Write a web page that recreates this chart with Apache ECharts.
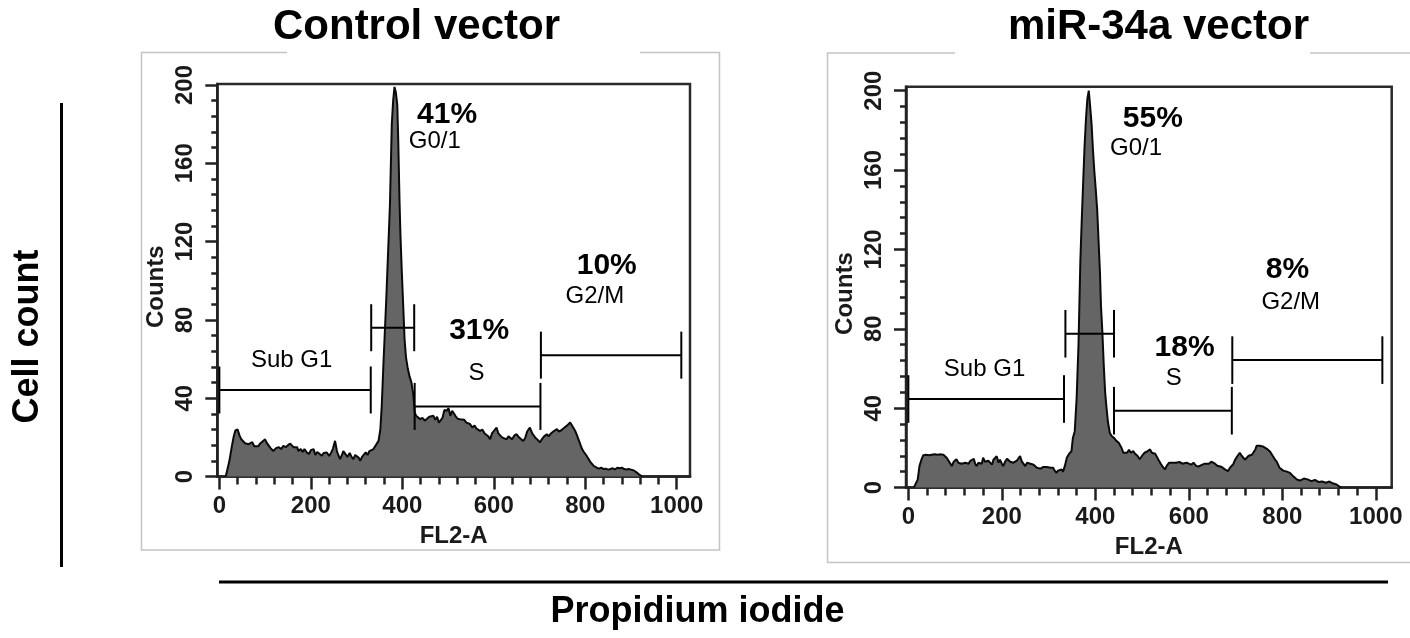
<!DOCTYPE html>
<html>
<head>
<meta charset="utf-8">
<script src="https://cdn.jsdelivr.net/npm/echarts@6/dist/echarts.min.js"></script>
<style>
html,body{margin:0;padding:0;background:#fff;}
#chart{width:1410px;height:638px;}
</style>
</head>
<body>
<div id="chart"></div>
<script>
// ---------- DATA ----------
const panelTitles = ['Control vector', 'miR-34a vector'];
const xAxisTitle = 'FL2-A';
const yAxisTitle = 'Counts';
const outerYTitle = 'Cell count';
const outerXTitle = 'Propidium iodide';
const xTickValues = [0, 200, 400, 600, 800, 1000];
const yTickValues = [0, 40, 80, 120, 160, 200];

// Control vector histogram (FL2-A channel, counts)
const ctrlX = [14,18,22,27,31,35,40,44,48,52,56,60,64,68,72,76,80,85,90,95,100,104,108,112,118,124,130,135,140,145,150,155,158,162,166,170,173,178,182,186,191,196,200,206,210,214,218,224,228,232,235,240,244,248,253,257,260,264,268,271,275,280,285,289,293,297,301,305,308,312,316,320,324,328,332,337,342,348,352,355,359,362,365,369,373,377,380,383,386,389,391,394,396,399,402,405,408,412,416,420,424,427,430,434,439,444,449,454,459,463,468,472,476,480,484,488,492,497,501,505,509,512,516,521,526,530,535,540,544,548,553,558,562,566,570,575,580,584,588,592,596,601,606,610,614,618,623,628,632,636,640,645,650,655,660,665,669,673,679,684,688,692,697,701,705,710,716,720,725,730,734,738,742,747,752,756,760,764,767,771,775,778,782,786,789,793,797,800,803,807,811,815,818,821,825,830,835,840,845,850,855,860,865,870,875,880,885,890,895,900,905,910,914,918,922,925];
const ctrlY = [0,0.5,8,15,20,23.5,24,21,19,18,17,18,16.5,16,17.5,15.5,16,15.5,17,18,19,17,16,14.5,13,14.5,15,14,15.7,15,16,16.8,17.4,15,14.5,15,13,14,12.5,14,12.3,11.5,13.5,14,11,12.5,11.5,10.6,12,11,12.3,10.5,12,14,18.2,13,11,8.9,11,13,13.1,10,12,10,8.9,11,12,9.5,8,10,11,12.3,11,13,14,14,16,18.2,24,36,59,75,91,115,139,180,192,199,196,190,173,140,123,104,87,70,61,55,51,48,42,33,31,30.5,29.3,30,28.5,29.5,30.5,30,31,29,30.5,27.5,26.8,30,34,33.6,35,31,33.6,33,31,29.5,29.3,28.5,29,27.5,27.5,26.8,25,26,24.5,24,23.3,24,22,21,20.5,19,22,23.5,25,22,21.5,20,19.5,19,20.5,21,19,21,21.6,20,19,18.2,20,23,25,22,21,19.5,18.5,17.4,19,20.5,21.6,20.5,22,23,23.5,24.2,23,23.5,24.5,25,26,27,27.6,26,24.5,23.3,21,18.5,16.5,14,12.5,11.5,10.6,9,7.5,6.5,5.5,5.5,4.5,4,4.5,3.8,4,3.5,3.8,4.2,3.6,4.5,4.2,4.5,3.8,3.6,3.8,3.5,3.2,2.5,2,1,0.3,0];

// miR-34a vector histogram
const mirX = [12,16,20,24,28,32,38,44,50,56,62,66,70,75,78,82,86,90,93,97,100,103,107,110,114,118,122,126,129,132,136,140,143,146,150,154,157,160,164,168,171,175,179,182,186,189,193,196,200,203,207,211,214,218,221,225,228,232,236,239,243,247,250,254,258,261,264,268,271,275,278,283,288,292,296,300,305,310,313,317,320,324,328,331,335,339,344,349,352,356,360,364,368,371,374,377,380,383,386,389,392,395,398,401,404,407,410,412,415,418,421,424,427,431,435,440,445,450,453,456,460,464,468,472,476,481,485,490,495,500,505,510,514,517,521,525,528,531,535,540,544,549,553,558,563,567,572,576,581,586,590,595,600,605,610,615,620,624,629,634,638,643,648,652,656,661,665,669,673,678,684,688,692,695,699,703,706,709,713,716,720,724,728,731,735,738,742,745,748,752,756,760,764,767,770,774,778,781,784,788,791,794,798,802,806,810,813,816,820,824,828,831,834,838,842,846,850,854,858,862,866,870,873,877,881,885,889,893,897,901,905,909,912,916,920,923,926];
const mirY = [0,0.5,4,11,14,16.3,16.5,16.3,16.5,16.7,16.5,17.5,16.7,16.5,15.8,15,13.5,12,10.8,13,12.5,14.2,12.5,13,12,11.6,12.5,13.5,12,13.3,12.5,14.5,12,10.8,12.5,13.5,12,15,13,12,13.5,12.5,11.5,14,13.5,15.8,12.5,14,12,10.8,13,14.5,15,13,14,12.5,11.6,13.5,14.5,15.8,13,12,10.8,12.5,13,12,12.5,11.5,11,10,9.1,9.5,10.3,10,10.3,10.2,10,9.9,8.5,7.4,8.5,9.5,9.1,8,11,15,17,18.3,25,28.4,45,72,114.5,135,154,172,186,196,200,192,183,170,159,150,140,124,108,92,78.7,62,48,40,33,27.5,26,25,23.5,22.5,22.5,20,17.5,18.5,17.5,19,17.5,18.3,17,16,14.2,16,17.5,18,18.5,19.2,17.5,16.5,17,15.8,14,12,10.5,9.1,11,12.5,12.5,13.3,12.5,13,12.8,12,13,12.5,12,11.5,12.5,11,10.5,10.8,11.5,12,13,12,13,12.5,12,11,11.5,10.5,9.9,9,8.3,10,11,11.7,14,15.5,16.5,17.5,16,15,14,14.2,16,17,16.5,16.7,19,21,22,21,20,20.5,20,19.5,19.2,18,16.5,15.5,14.2,13,11.5,10,9.1,8.5,8.8,8,7.5,7.4,6.5,5.5,5,4,3.3,3.5,4.2,4.5,4,4.1,3.5,3.2,3.5,3.8,3.3,2.8,2.5,3,2.8,2.4,2.8,3,2.6,2,2.4,1.5,0.8,0.3,0];

// Gates: start channel, end channel, marker level (counts)
const ctrlGateStart = [0, 332, 427, 703];
const ctrlGateEnd   = [331, 426, 702, 1010];
const ctrlGateLevel = [44.2, 76, 35.8, 62];
const mirGateStart  = [0, 336, 440, 693];
const mirGateEnd    = [333, 440, 692, 1014];
const mirGateLevel  = [44.6, 77.5, 38.7, 64.2];

// Annotations: text, channel, counts
const ctrlLabelText = ['41%', 'G0/1', '31%', 'S', '10%', 'G2/M', 'Sub G1'];
const ctrlLabelX    = [498, 471, 568, 562, 847, 821, 158];
const ctrlLabelY    = [184.7, 171, 74.5, 52.5, 107.6, 92, 59.4];
const mirLabelText  = ['55%', 'G0/1', '18%', 'S', '8%', 'G2/M', 'Sub G1'];
const mirLabelX     = [523, 487, 591, 568, 811, 818, 163];
const mirLabelY     = [186, 170.7, 70.2, 54.9, 110, 93.4, 59.6];

// ---------- CHART ----------
const FONT = '"Liberation Sans", Arial, Helvetica, sans-serif';
const AX_FONT = FONT;
const AX_SIZE = 24;
const AX_HALF = AX_SIZE / 2;

const GATE_HALF = 12;
const minorX = [];
for (let v = 0; v <= 1000; v += 40) if (xTickValues.indexOf(v) < 0) minorX.push(v);
const minorY = [];
for (let v = 0; v <= 200; v += 8) if (yTickValues.indexOf(v) < 0) minorY.push(v);

const zip = (a, b) => a.map((v, i) => [v, b[i]]);
const zip3 = (a, b, c) => a.map((v, i) => [v, b[i], c[i]]);

function gateRender(params, api) {
  const x1 = api.value(0), x2 = api.value(1), y = api.value(2);
  const a = api.coord([x1, y]), b = api.coord([x2, y]);
  const top = api.coord([x1, y + GATE_HALF])[1];
  const bot = api.coord([x1, y - GATE_HALF])[1];
  const st = {stroke: '#000', lineWidth: 2};
  return {type: 'group', children: [
    {type: 'line', shape: {x1: a[0], y1: a[1], x2: b[0], y2: b[1]}, style: st},
    {type: 'line', shape: {x1: a[0], y1: top, x2: a[0], y2: bot}, style: st},
    {type: 'line', shape: {x1: b[0], y1: top, x2: b[0], y2: bot}, style: st}
  ]};
}
function makeLabelRender(texts) {
  return function (params, api) {
    const p = api.coord([api.value(0), api.value(1)]);
    const t = texts[params.dataIndex];
    const bold = t.indexOf('%') >= 0;
    return {type: 'text', x: p[0], y: p[1], style: {
      text: t, fill: '#000', align: 'center', verticalAlign: 'middle',
      font: (bold ? 'bold 30px ' : '24px ') + FONT
    }};
  };
}

const grids = [
  {left: 217.3, top: 84, width: 472.7, height: 392.5, xmin: -4.5, xmax: 1029, ymax: 200.5},
  {left: 906, top: 86.7, width: 485.7, height: 400.8, xmin: -5, xmax: 1034, ymax: 202}
];

const option = {
  animation: false,
  backgroundColor: '#fff',
  grid: grids.map(g => ({left: g.left, top: g.top, width: g.width, height: g.height,
    show: true, borderColor: '#2a2a2a', borderWidth: 2.5, backgroundColor: 'transparent'})),
  xAxis: [],
  yAxis: [],
  series: [],
  graphic: []
};

const axisText = {color: '#1a1a1a', fontFamily: AX_FONT, fontWeight: 'bold', fontSize: AX_SIZE};
const plain = v => String(v);
grids.forEach((g, gi) => {
  option.xAxis.push({
    type: 'value', gridIndex: gi, min: g.xmin, max: g.xmax, position: 'bottom',
    name: xAxisTitle, nameLocation: 'middle', nameGap: 60 - AX_HALF, nameTextStyle: axisText,
    axisLine: {show: true, onZero: false, lineStyle: {color: '#222', width: 2.5}},
    axisTick: {show: true, customValues: xTickValues, length: 13, lineStyle: {color: '#222', width: 2.5}},
    axisLabel: Object.assign({show: true, customValues: xTickValues, margin: 30 - AX_HALF, formatter: plain}, axisText),
    splitLine: {show: false}
  });
  option.xAxis.push({
    type: 'value', gridIndex: gi, min: g.xmin, max: g.xmax, position: 'bottom',
    axisLine: {show: false, onZero: false},
    axisTick: {show: true, customValues: minorX, length: 8, lineStyle: {color: '#222', width: 2.5}},
    axisLabel: {show: false}, splitLine: {show: false}
  });
  option.yAxis.push({
    type: 'value', gridIndex: gi, min: 0, max: g.ymax, position: 'left',
    name: yAxisTitle, nameLocation: 'middle', nameGap: 61 - AX_HALF, nameRotate: 90,
    nameTextStyle: Object.assign({padding: [0, 13, 0, 0]}, axisText),
    axisLine: {show: true, onZero: false, lineStyle: {color: '#222', width: 2.5}},
    axisTick: {show: true, customValues: yTickValues, length: 12, lineStyle: {color: '#222', width: 2.5}},
    axisLabel: Object.assign({show: true, customValues: yTickValues, margin: 32 - AX_HALF, rotate: 90, formatter: plain}, axisText),
    splitLine: {show: false}
  });
  option.yAxis.push({
    type: 'value', gridIndex: gi, min: 0, max: g.ymax, position: 'left',
    axisLine: {show: false, onZero: false},
    axisTick: {show: true, customValues: minorY, length: 6, lineStyle: {color: '#222', width: 2.5}},
    axisLabel: {show: false}, splitLine: {show: false}
  });
});

const panels = [
  {x: ctrlX, y: ctrlY, gs: ctrlGateStart, ge: ctrlGateEnd, gl: ctrlGateLevel, lt: ctrlLabelText, lx: ctrlLabelX, ly: ctrlLabelY},
  {x: mirX, y: mirY, gs: mirGateStart, ge: mirGateEnd, gl: mirGateLevel, lt: mirLabelText, lx: mirLabelX, ly: mirLabelY}
];
panels.forEach((p, gi) => {
  const xi = gi * 2, yi = gi * 2;
  option.series.push({
    type: 'line', xAxisIndex: xi, yAxisIndex: yi, data: zip(p.x, p.y),
    showSymbol: false, symbol: 'none', smooth: false,
    lineStyle: {color: '#0a0a0a', width: 2},
    areaStyle: {color: '#656565', opacity: 1},
    z: 2
  });
  option.series.push({
    type: 'custom', xAxisIndex: xi, yAxisIndex: yi, data: zip3(p.gs, p.ge, p.gl),
    encode: {x: [0, 1], y: 2}, renderItem: gateRender, z: 5
  });
  option.series.push({
    type: 'custom', xAxisIndex: xi, yAxisIndex: yi, data: zip(p.lx, p.ly),
    encode: {x: 0, y: 1}, renderItem: makeLabelRender(p.lt), z: 6
  });
});

const boxStyle = {stroke: '#c4c4c4', lineWidth: 1.5, fill: null};
option.graphic = [
  {type: 'polyline', silent: true, shape: {points: [[287, 52.5], [141.5, 52.5], [141.5, 550], [719.5, 550], [719.5, 52.5], [640, 52.5]]}, style: boxStyle},
  {type: 'polyline', silent: true, shape: {points: [[955, 53], [827.5, 53], [827.5, 562.5], [1412, 562.5]]}, style: boxStyle},
  {type: 'polyline', silent: true, shape: {points: [[1310, 53], [1412, 53]]}, style: boxStyle},
  {type: 'text', x: 416.5, y: 27.5, style: {text: panelTitles[0], font: 'bold 42px ' + FONT, fill: '#000', align: 'center', verticalAlign: 'middle'}},
  {type: 'text', x: 1158.5, y: 27.5, style: {text: panelTitles[1], font: 'bold 42px ' + FONT, fill: '#000', align: 'center', verticalAlign: 'middle'}},
  {type: 'line', shape: {x1: 61.5, y1: 103, x2: 61.5, y2: 567}, style: {stroke: '#000', lineWidth: 3}},
  {type: 'text', x: 28.5, y: 336.5, rotation: Math.PI / 2, style: {text: outerYTitle, font: 'bold 36px ' + FONT, fill: '#000', align: 'center', verticalAlign: 'middle'}},
  {type: 'line', shape: {x1: 219, y1: 582, x2: 1388, y2: 582}, style: {stroke: '#000', lineWidth: 3}},
  {type: 'text', x: 697.5, y: 612, style: {text: outerXTitle, font: 'bold 36px ' + FONT, fill: '#000', align: 'center', verticalAlign: 'middle'}}
];

const chart = echarts.init(document.getElementById('chart'), null, {renderer: 'canvas'});
chart.setOption(option);
</script>
</body>
</html>
